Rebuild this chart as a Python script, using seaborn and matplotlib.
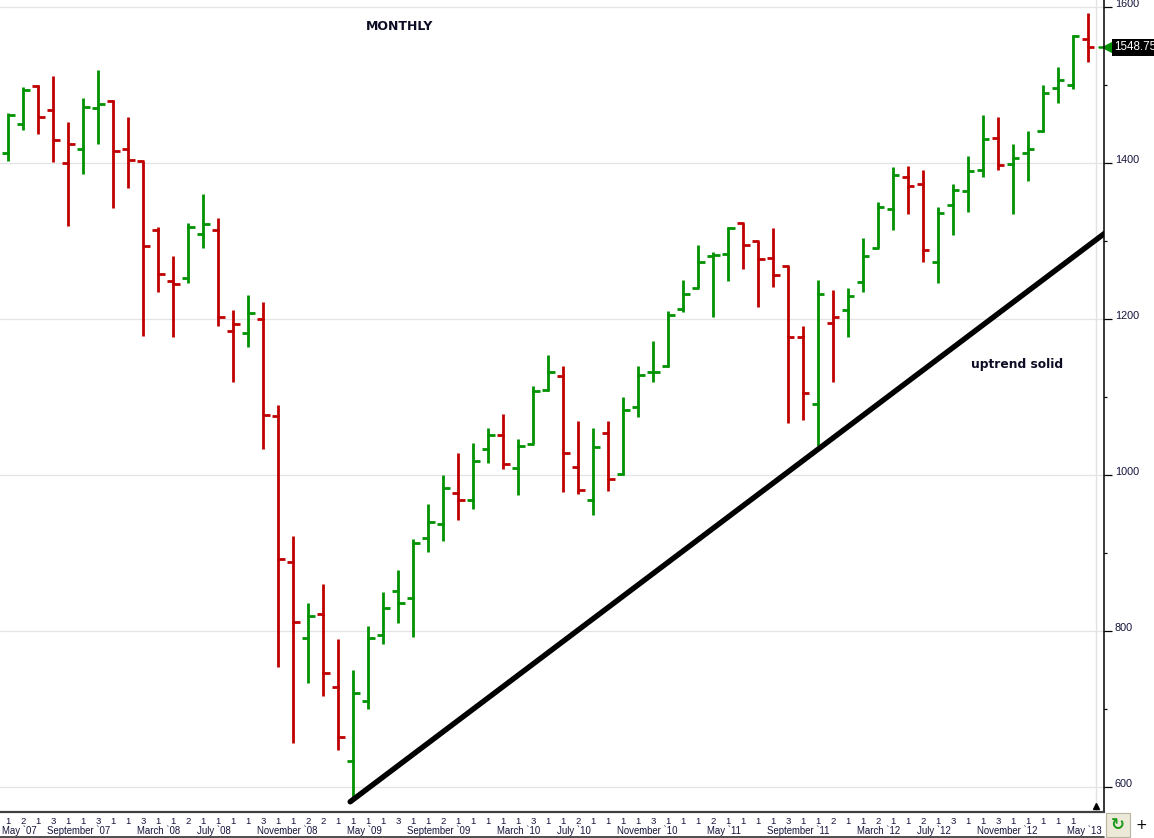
import numpy as np
import pandas as pd
import matplotlib
matplotlib.use("Agg")
import matplotlib.pyplot as plt
import matplotlib.transforms as mtrans
from matplotlib.lines import Line2D
from matplotlib.patches import Rectangle
import seaborn as sns

# monthly bars (Jun 2007 .. Jun 2013)
opens = [1413, 1451, 1499, 1468, 1401, 1419, 1471, 1480, 1418, 1403,
         1314, 1249, 1253, 1309, 1314, 1185, 1182, 1200, 1076, 888,
         791, 822, 728, 633, 710, 795, 851, 843, 919, 938,
         977, 968, 1033, 1052, 1009, 1040, 1109, 1127, 1011, 968,
         1054, 1001, 1087, 1133, 1140, 1213, 1240, 1281, 1284, 1324,
         1300, 1278, 1268, 1177, 1091, 1195, 1212, 1248, 1291, 1341,
         1382, 1374, 1274, 1346, 1364, 1392, 1432, 1399, 1413, 1442,
         1497, 1501, 1560]
highs = [1465, 1498, 1500, 1512, 1453, 1484, 1520, 1481, 1459, 1403,
         1319, 1281, 1324, 1361, 1330, 1212, 1231, 1222, 1090, 922,
         836, 860, 790, 750, 806, 850, 878, 918, 963, 1000,
         1028, 1041, 1061, 1079, 1046, 1114, 1154, 1140, 1069, 1061,
         1069, 1100, 1140, 1172, 1211, 1251, 1295, 1286, 1318, 1324,
         1300, 1317, 1268, 1191, 1251, 1238, 1240, 1304, 1351, 1395,
         1396, 1391, 1344, 1373, 1410, 1462, 1459, 1425, 1442, 1501,
         1524, 1565, 1593]
lows = [1403, 1443, 1438, 1402, 1320, 1387, 1425, 1343, 1369, 1179,
        1235, 1177, 1246, 1292, 1192, 1119, 1165, 1034, 754, 657,
        734, 717, 648, 583, 700, 784, 810, 792, 902, 916,
        942, 956, 1015, 1008, 975, 1040, 1108, 978, 976, 949,
        980, 1000, 1075, 1120, 1139, 1209, 1240, 1203, 1249, 1265,
        1216, 1242, 1067, 1071, 1037, 1119, 1177, 1235, 1291, 1315,
        1335, 1274, 1246, 1308, 1337, 1382, 1391, 1335, 1378, 1440,
        1478, 1495, 1530]
closes = [1462, 1494, 1460, 1430, 1425, 1472, 1476, 1416, 1404, 1294,
          1258, 1245, 1319, 1322, 1203, 1194, 1208, 1077, 892, 811,
          819, 746, 664, 721, 791, 829, 836, 913, 940, 984,
          968, 1018, 1051, 1014, 1037, 1108, 1132, 1029, 981, 1036,
          995, 1083, 1128, 1132, 1205, 1232, 1273, 1283, 1317, 1295,
          1277, 1257, 1177, 1106, 1232, 1203, 1230, 1281, 1344, 1385,
          1371, 1289, 1336, 1366, 1390, 1431, 1398, 1407, 1419, 1490,
          1507, 1563, 1548.75]

# first trading day of each month, as printed under the axis
day_labels = ["1", "2", "1", "3", "1", "1", "3",
              "1", "1", "3", "1", "1", "2", "1", "1", "1", "1", "3", "1",
              "1", "2", "2", "1", "1", "1", "1", "3", "1", "1", "2", "1",
              "1", "1", "1", "1", "3", "1", "1", "2", "1", "1", "1", "1",
              "3", "1", "1", "1", "2", "1", "1", "1", "1", "3", "1", "1",
              "2", "1", "1", "2", "1", "1", "2", "1", "3", "1", "1", "3",
              "1", "1", "1", "1", "1"]
month_labels = ["May `07", "September `07", "March `08", "July `08", "November `08",
                "May `09", "September `09", "March `10", "July `10", "November `10",
                "May `11", "September `11", "March `12", "July `12", "November `12",
                "May `13"]
month_pos = [0, 3, 9, 13, 17, 23, 27, 33, 37, 41, 47, 51, 57, 61, 65, 71]

# hand drawn trend line (bar index, price)
trend_x = [22.8, 73.3]
trend_y = [581, 1313]
last_price = "1548.75"

GREEN = "#009200"
RED = "#c00000"
TXT = "#14143c"

df = pd.DataFrame({"Open": opens, "High": highs, "Low": lows, "Close": closes})
df["bar"] = np.arange(len(df))
prev = df["Close"].shift(1).fillna(df["Open"])
df["color"] = np.where(df["Close"] >= prev, GREEN, RED)

sns.set_style("white")
plt.rcParams["font.family"] = ["Liberation Sans", "DejaVu Sans"]

W, H = 1154, 838
fig = plt.figure(figsize=(W / 100, H / 100), dpi=100)
fig.patch.set_facecolor("white")
ax = fig.add_axes([0, 25.7 / H, 1104.3 / W, 1 - 25.7 / H])

# OHLC bars
ax.vlines(df["bar"], df["Low"], df["High"], colors=df["color"], linewidth=2.0)
ax.hlines(df["Open"], df["bar"] - 0.43, df["bar"] + 0.05, colors=df["color"], linewidth=2.0)
ax.hlines(df["Close"], df["bar"] - 0.05, df["bar"] + 0.43, colors=df["color"], linewidth=2.0)

# trend line
sns.lineplot(x=trend_x, y=trend_y, ax=ax, color="black", linewidth=3.9,
             solid_capstyle="round", legend=False)

ax.set_xlim(-0.553, 73.09)
ax.set_ylim(567.5, 1609.6)

# y axis on the right
ax.yaxis.tick_right()
ax.set_yticks(np.arange(600, 1601, 200))
ax.set_yticks(np.arange(700, 1600, 200), minor=True)
ax.tick_params(axis="y", which="major", direction="out", length=5.8, width=0.9,
               pad=1.8, labelsize=7.8, labelcolor=TXT, color="black")
ax.tick_params(axis="y", which="minor", direction="out", length=2.2, width=0.9, color="black")
for lbl in ax.get_yticklabels():
    lbl.set_va("baseline")
ax.grid(axis="y", which="major", color="#e4e4e4", linewidth=0.9)
ax.set_axisbelow(True)

# x axis: day numbers on ticks, month names underneath
ax.set_xticks(df["bar"] - 0.33)
ax.set_xticklabels(day_labels + [""] * (len(df) - len(day_labels)))
ax.tick_params(axis="x", direction="out", length=2.3, width=0.7, pad=1.0,
               labelsize=6.8, labelcolor=TXT, color="#303030")
shift = mtrans.ScaledTranslation(2.2 / 100, 0, fig.dpi_scale_trans)
for lbl in ax.get_xticklabels():
    lbl.set_ha("left")
    lbl.set_transform(lbl.get_transform() + shift)
for k, txt in zip(month_pos, month_labels):
    ax.annotate(txt, xy=(k - 0.4, 0), xycoords=ax.get_xaxis_transform(),
                xytext=(0, -9.6), textcoords="offset points", ha="left", va="top",
                fontsize=6.9, color=TXT, annotation_clip=False)

for side in ["left", "top"]:
    ax.spines[side].set_visible(False)
ax.spines["bottom"].set_color("#404040")
ax.spines["bottom"].set_linewidth(1.6)
ax.spines["right"].set_color("black")
ax.spines["right"].set_linewidth(1.1)

# current bar marker line and triangle
cur = len(df) - 0.44
ax.axvline(cur, color="#e2e2e2", linewidth=1.0, zorder=0)
ax.plot(cur, 0.0075, marker="^", color="black", markersize=4.5,
        transform=ax.get_xaxis_transform(), clip_on=False)

# last price tag
blend = mtrans.blended_transform_factory(ax.transAxes, ax.transData)
last = df["Close"].iloc[-1]
ax.plot([0.9955, 1.0], [last, last], color=GREEN, linewidth=1.8, transform=blend)
tri_off = mtrans.ScaledTranslation(4.0 / 100, 0, fig.dpi_scale_trans)
ax.plot(1.0, last, marker="<", color=GREEN, markersize=8.5,
        transform=blend + tri_off, clip_on=False)
ax.annotate(last_price, xy=(1.0, last), xycoords=blend, xytext=(9.8, 0),
            textcoords="offset pixels", ha="left", va="center", color="white",
            fontsize=8.4, annotation_clip=False,
            bbox=dict(boxstyle="square,pad=0.18", fc="black", ec="none"))

# labels
fig.text(400 / W, 1 - 27 / H, "MONTHLY", ha="center", va="center",
         fontsize=9, fontweight="bold", color="#0c0c24", family="DejaVu Sans")
fig.text(1017 / W, 1 - 364 / H, "uptrend solid", ha="center", va="center",
         fontsize=8.8, fontweight="bold", color="#0c0c24", family="DejaVu Sans")

# little widgets in the corner
fig.add_artist(Rectangle((1105.5 / W, 1.5 / H), 24 / W, 23.5 / H, transform=fig.transFigure,
                         fc="#ece9d8", ec="#b8b4a0", lw=0.8))
fig.text(1117.5 / W, 13 / H, "\u21bb", ha="center", va="center", color="#1a9a1a",
         fontsize=12, fontweight="bold", family="DejaVu Sans")
fig.text(1141 / W, 13 / H, "+", ha="center", va="center", color="black",
         fontsize=10, family="DejaVu Sans")
fig.add_artist(Line2D([0, 1104.3 / W], [1.3 / H, 1.3 / H], transform=fig.transFigure,
                      color="#303030", linewidth=1.2))

fig.savefig("out.png", dpi=100)
